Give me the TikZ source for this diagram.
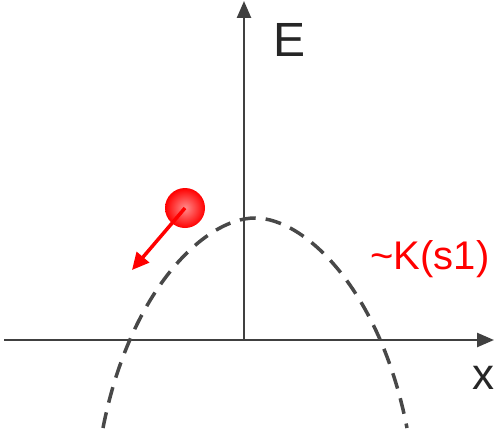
\documentclass[tikz,border=0pt]{standalone}
\usepackage{fontspec}
\setmainfont{Liberation Sans}
\usepackage{tikz}
\usetikzlibrary{arrows.meta}
\usepackage{xcolor}
\definecolor{axisgray}{RGB}{64, 64, 64}
\definecolor{curvegray}{RGB}{72, 72, 72}
\definecolor{labelred}{RGB}{255, 0, 0}

\begin{document}
\begin{tikzpicture}[
    x=1pt, y=-1pt,
    axis/.style={draw=axisgray, line width=2.5pt,
                 -{Triangle[length=17pt, width=14pt]}},
    barrier/.style={draw=curvegray, line width=3.5pt,
                    dash pattern=on 16pt off 10pt},
    push/.style={draw=labelred, line width=3.5pt,
                 -{Triangle[length=17pt, width=16pt]}},
    lbl/.style={inner sep=0pt, text=black!85},
  ]
    \useasboundingbox (0,0) rectangle (494,428);

    % axes
    \coordinate (origin) at (244,340);
    \coordinate (xstart) at (4,340);
    \coordinate (xend) at (494,340);
    \coordinate (yend) at (244,1);
    \draw[axis] (xstart) -- (xend);
    \draw[axis] (origin) -- (yend);

    \node[lbl, font=\fontsize{48}{50}\selectfont] (elabel) at (290,40) {E};
    \node[lbl, font=\fontsize{44}{46}\selectfont] (xlabel) at (483,378) {x};

    % energy barrier
    \coordinate (left) at (103,428);
    \coordinate (top) at (255,218);
    \coordinate (right) at (407,428);
    \draw[barrier] (left) .. controls (130,290) and (205,218) .. (top)
                          .. controls (305,218) and (380,290) .. (right);

    \node[labelred, inner sep=0pt, font=\fontsize{40}{42}\selectfont]
      (klabel) at (430,259) {\textasciitilde K(s1)};

    % particle
    \node[circle, minimum size=40pt, inner sep=0pt,
          inner color=red!45!white, outer color=labelred]
      (ball) at (185,208) {};
    \coordinate (tip) at (132,270);
    \draw[push] (ball.center) -- (tip);
  \end{tikzpicture}
\end{document}
